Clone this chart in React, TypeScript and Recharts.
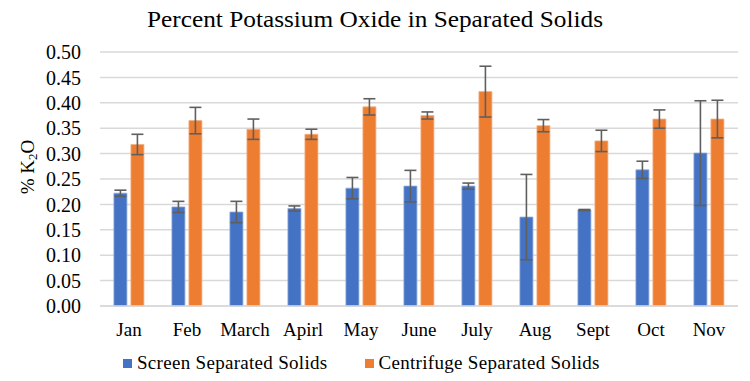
import {
  Bar,
  BarChart,
  CartesianGrid,
  ErrorBar,
  XAxis,
  YAxis,
} from "recharts";

const months = ["Jan", "Feb", "March", "Apirl", "May", "June", "July", "Aug", "Sept", "Oct", "Nov"];
const screenValues = [0.222, 0.195, 0.185, 0.192, 0.232, 0.236, 0.236, 0.175, 0.189, 0.268, 0.301];
const screenErrors = [0.006, 0.011, 0.021, 0.005, 0.021, 0.031, 0.006, 0.084, 0.001, 0.017, 0.103];
const centrifugeValues = [0.318, 0.365, 0.348, 0.338, 0.392, 0.375, 0.422, 0.355, 0.325, 0.368, 0.368];
const centrifugeErrors = [0.02, 0.026, 0.02, 0.01, 0.016, 0.007, 0.05, 0.012, 0.021, 0.018, 0.037];
const yTicks = [0, 0.05, 0.1, 0.15, 0.2, 0.25, 0.3, 0.35, 0.4, 0.45, 0.5];
const seriesNames = ["Screen Separated Solids", "Centrifuge Separated Solids"];

const data = months.map((month, i) => ({
  month,
  screen: screenValues[i],
  screenErr: screenErrors[i],
  centrifuge: centrifugeValues[i],
  centrifugeErr: centrifugeErrors[i],
}));

const FONT = "Liberation Serif, Times New Roman, DejaVu Serif, serif";
const BLUE = "#4472C4";
const ORANGE = "#ED7D31";
const ERR = "#5f5f5f";

function YLabel({ viewBox }: any) {
  const cx = 27;
  const cy = (viewBox?.y ?? 52) + (viewBox?.height ?? 254) / 2 - 12;
  return (
    <text
      x={cx}
      y={cy}
      transform={`rotate(-90 ${cx} ${cy})`}
      textAnchor="middle"
      dominantBaseline="central"
      fontFamily={FONT}
      fontSize={19}
      fill="#000"
    >
      % K
      <tspan fontSize={13} dy={5}>2</tspan>
      <tspan dy={-5}>O</tspan>
    </text>
  );
}

export default function App() {
  return (
    <div
      style={{
        position: "absolute",
        left: 0,
        top: 0,
        width: 750,
        height: 381,
        background: "#fff",
        fontFamily: FONT,
      }}
    >
      <div
        style={{
          position: "absolute",
          top: 7,
          left: 0,
          width: 750,
          textAlign: "center",
          fontSize: 23,
          color: "#000",
          transform: "scaleX(1.1)",
        }}
      >
        Percent Potassium Oxide in Separated Solids
      </div>
      <BarChart
        width={750}
        height={381}
        data={data}
        margin={{ top: 52, right: 12, left: 0, bottom: 45 }}
        barCategoryGap="24%"
        barGap={4}
      >
        <CartesianGrid vertical={false} stroke="#d9d9d9" strokeWidth={1.5} />
        <XAxis
          dataKey="month"
          axisLine={{ stroke: "#d9d9d9", strokeWidth: 1.5 }}
          tickLine={false}
          tickSize={0}
          tickMargin={17}
          height={30}
          interval={0}
          tick={{ fontFamily: FONT, fontSize: 19, fill: "#000" }}
        />
        <YAxis
          domain={[0, 0.5]}
          ticks={yTicks}
          tickFormatter={(v: number) => v.toFixed(2)}
          axisLine={false}
          tickLine={false}
          tickSize={0}
          tickMargin={19}
          width={100}
          interval={0}
          tick={{ fontFamily: FONT, fontSize: 20, fill: "#000" }}
          label={<YLabel />}
        />
        <Bar
          dataKey="screen"
          name={seriesNames[0]}
          fill={BLUE}
          stroke="#8eaadb"
          strokeWidth={0.8}
          isAnimationActive={false}
        >
          <ErrorBar dataKey="screenErr" width={6} stroke={ERR} strokeWidth={1.6} />
        </Bar>
        <Bar
          dataKey="centrifuge"
          name={seriesNames[1]}
          fill={ORANGE}
          stroke="#f4b183"
          strokeWidth={0.8}
          isAnimationActive={false}
        >
          <ErrorBar dataKey="centrifugeErr" width={6} stroke={ERR} strokeWidth={1.6} />
        </Bar>
      </BarChart>
      <div
        style={{
          position: "absolute",
          top: 352,
          left: 123,
          display: "flex",
          alignItems: "center",
          fontSize: 19,
          letterSpacing: 0.3,
          color: "#000",
          whiteSpace: "nowrap",
        }}
      >
        {seriesNames.map((name, i) => (
          <div key={name} style={{ display: "flex", alignItems: "center", marginRight: 37 }}>
            <span
              style={{
                display: "inline-block",
                width: 9,
                height: 9,
                background: i === 0 ? BLUE : ORANGE,
                marginRight: 5,
              }}
            />
            <span>{name}</span>
          </div>
        ))}
      </div>
    </div>
  );
}
